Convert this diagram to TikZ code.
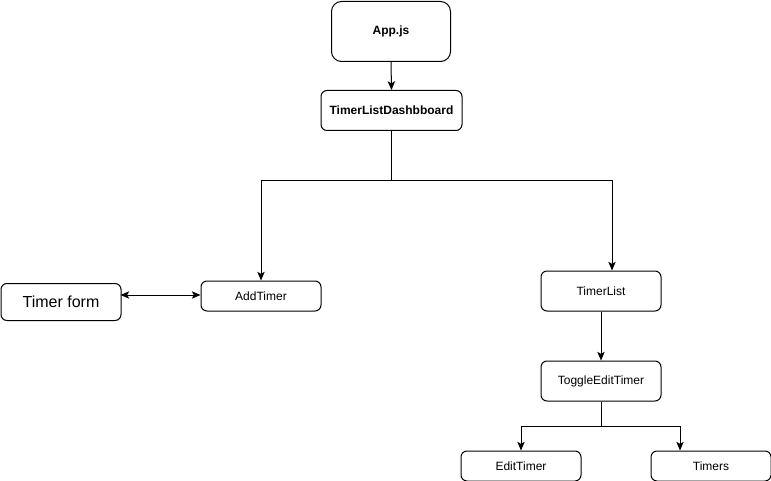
\documentclass[tikz,border=0pt]{standalone}
\usepackage{fontspec}
\setmainfont{Liberation Sans}
\usetikzlibrary{arrows.meta,calc}
\begin{document}
\begin{tikzpicture}[x=0.75pt,y=-0.75pt,
  box/.style={draw,line width=0.75pt,rounded corners=4.5pt,inner sep=0pt,anchor=north west,align=center,font=\fontsize{9}{11}\selectfont},
  conn/.style={line width=0.75pt,-{Stealth[length=6.5pt,width=5.5pt,inset=1.5pt]}},
  biconn/.style={line width=0.75pt,{Stealth[length=6.5pt,width=5.5pt,inset=1.5pt]}-{Stealth[length=6.5pt,width=5.5pt,inset=1.5pt]}}]
\useasboundingbox[fill=white] (0,0) rectangle (771,481);
\node[box,rounded corners=7.5pt,minimum width=89.25pt,minimum height=45pt,font=\fontsize{9}{11}\selectfont\bfseries] (app) at (331,1) {App.js};
\node[box,minimum width=105.75pt,minimum height=30pt,font=\fontsize{9}{11}\selectfont\bfseries] (tld) at (320.5,90) {TimerListDashbboard};
\node[box,minimum width=90pt,minimum height=22.5pt] (add) at (200.5,280.5) {AddTimer};
\node[box,minimum width=90pt,minimum height=27.75pt,font=\fontsize{12}{14}\selectfont] (form) at (0.5,283) {Timer form};
\node[box,minimum width=90pt,minimum height=30pt] (tl) at (540.5,270.5) {TimerList};
\node[box,minimum width=90pt,minimum height=30pt] (tog) at (540.5,360.5) {ToggleEditTimer};
\node[box,minimum width=90pt,minimum height=22.5pt] (edit) at (460.5,450.5) {EditTimer};
\node[box,minimum width=90pt,minimum height=22.5pt] (tim) at (650.5,450.5) {Timers};
\coordinate (tlin) at (612,270.5);
\coordinate (timin) at (680,450.5);
\coordinate (addl) at (200.5,295);
\coordinate (formr) at (120.5,295);
\draw[conn] (app.south) -- (tld.north);
\draw[conn] (tld.south) -- ++(0,50) -| (add.north);
\draw[conn] (tld.south) -- ++(0,50) -| (tlin);
\draw[biconn] (formr) -- (addl);
\draw[conn] (tl.south) -- (tog.north);
\draw[conn] (tog.south) -- ++(0,25) -| (edit.north);
\draw[conn] (tog.south) -- ++(0,25) -| (timin);
\end{tikzpicture}
\end{document}
